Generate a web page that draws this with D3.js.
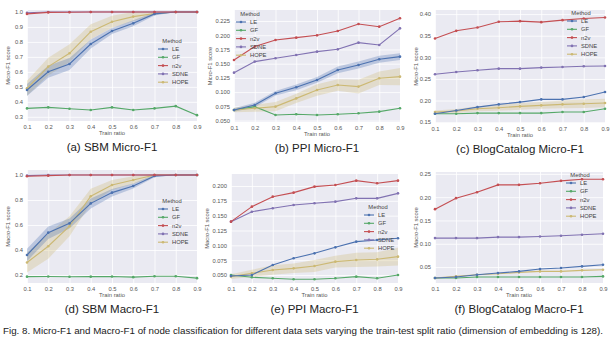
<!DOCTYPE html>
<html>
<head>
<meta charset="utf-8">
<script src="https://cdn.jsdelivr.net/npm/d3@7"></script>
<style>
  body { margin: 0; background: #fff; }
  svg { display: block; font-family: "Liberation Sans", Arial, sans-serif; }
</style>
</head>
<body>
<div id="chart"></div>
<script>
// train ratios on the x axis
var ratios = [0.1, 0.2, 0.3, 0.4, 0.5, 0.6, 0.7, 0.8, 0.9];
var methods = ["LE", "GF", "n2v", "SDNE", "HOPE"];
var colors = ["#4C72B0", "#55A868", "#C44E52", "#8172B2", "#CCB974"];

// each panel: one array per method, same order as `methods`
var sbmMicro = [
    [0.479, 0.601, 0.653, 0.786, 0.873, 0.924, 0.987, 1.0, 1.0],
    [0.356, 0.363, 0.354, 0.345, 0.363, 0.345, 0.356, 0.371, 0.311],
    [0.987, 0.997, 0.998, 1.0, 1.0, 1.0, 1.0, 1.0, 1.0],
    [0.995, 1.0, 1.0, 1.0, 1.0, 1.0, 1.0, 1.0, 1.0],
    [0.49, 0.635, 0.724, 0.868, 0.935, 0.969, 0.99, 1.0, 1.0]
];
var ppiMicro = [
    [0.0687, 0.0775, 0.098, 0.1085, 0.1214, 0.139, 0.1477, 0.1577, 0.1623],
    [0.0687, 0.0745, 0.0599, 0.061, 0.0599, 0.061, 0.0628, 0.0657, 0.0716],
    [0.1565, 0.180, 0.1916, 0.1957, 0.1998, 0.2074, 0.2197, 0.215, 0.2297],
    [0.1342, 0.1536, 0.1594, 0.1653, 0.1711, 0.1752, 0.1869, 0.1828, 0.2121],
    [0.0687, 0.0716, 0.0745, 0.089, 0.1037, 0.1126, 0.1097, 0.1243, 0.1272]
];
var blogMicro = [
    [0.1693, 0.1771, 0.1848, 0.191, 0.1964, 0.2026, 0.2026, 0.208, 0.2197],
    [0.1693, 0.1693, 0.1709, 0.1709, 0.1709, 0.1709, 0.1733, 0.1733, 0.181],
    [0.3435, 0.3613, 0.369, 0.3822, 0.3837, 0.3814, 0.386, 0.39, 0.3923],
    [0.2607, 0.2661, 0.27, 0.2738, 0.2738, 0.2762, 0.2777, 0.2793, 0.28],
    [0.1732, 0.1756, 0.181, 0.1833, 0.1864, 0.1887, 0.191, 0.1926, 0.1942]
];
var sbmMacro = [
    [0.36, 0.539, 0.613, 0.773, 0.859, 0.912, 0.992, 1.0, 1.0],
    [0.187, 0.188, 0.186, 0.187, 0.188, 0.183, 0.19, 0.19, 0.175],
    [0.99, 0.995, 1.0, 1.0, 1.0, 1.0, 1.0, 1.0, 1.0],
    [0.995, 1.0, 1.0, 1.0, 1.0, 1.0, 1.0, 1.0, 1.0],
    [0.30, 0.43, 0.59, 0.83, 0.92, 0.96, 1.0, 1.0, 1.0]
];
var ppiMacro = [
    [0.0483, 0.05, 0.0669, 0.0781, 0.0865, 0.0966, 0.1062, 0.109, 0.1118],
    [0.05, 0.0461, 0.0444, 0.0427, 0.0427, 0.0444, 0.0472, 0.0444, 0.05],
    [0.1399, 0.1652, 0.182, 0.1888, 0.1989, 0.2017, 0.209, 0.2045, 0.209],
    [0.1399, 0.1567, 0.1624, 0.168, 0.1708, 0.1736, 0.1792, 0.1792, 0.1876],
    [0.0472, 0.0528, 0.0584, 0.0612, 0.0652, 0.0725, 0.0753, 0.0764, 0.0809]
];
var blogMacro = [
    [0.0264, 0.0286, 0.0336, 0.0371, 0.0407, 0.0457, 0.0479, 0.0514, 0.055],
    [0.0264, 0.0264, 0.0286, 0.0286, 0.0286, 0.0286, 0.0286, 0.0286, 0.03],
    [0.1743, 0.1979, 0.2107, 0.2264, 0.2264, 0.23, 0.235, 0.2386, 0.2386],
    [0.1121, 0.1121, 0.1121, 0.1143, 0.1143, 0.1157, 0.1171, 0.1193, 0.1214],
    [0.0264, 0.03, 0.0336, 0.0357, 0.0386, 0.0407, 0.0407, 0.0429, 0.0443]
];

// confidence half-widths (only the noisy ones are visible)
var sbmMicroCI = [
    [0.04, 0.04, 0.04, 0.03, 0.02, 0.02, 0.01, 0, 0],
    null, null, null,
    [0.05, 0.06, 0.06, 0.05, 0.04, 0.03, 0.01, 0, 0]
];
var sbmMacroCI = [
    [0.05, 0.05, 0.04, 0.04, 0.03, 0.02, 0.01, 0, 0],
    null, null, null,
    [0.08, 0.1, 0.08, 0.06, 0.04, 0.03, 0.01, 0, 0]
];
var ppiMicroCI = [
    [0.003, 0.004, 0.004, 0.005, 0.005, 0.006, 0.006, 0.006, 0.006],
    null, null, null,
    [0.004, 0.006, 0.008, 0.008, 0.01, 0.01, 0.012, 0.012, 0.015]
];
var ppiMacroCI = [
    null, null, null, null,
    [0.004, 0.006, 0.008, 0.008, 0.01, 0.01, 0.012, 0.012, 0.015]
];
var blogMicroCI = [
    null, null, null, null,
    [0.004, 0.005, 0.006, 0.007, 0.008, 0.008, 0.009, 0.01, 0.01]
];

// y tick values per panel
var sbmMicroTicks = [0.3, 0.4, 0.5, 0.6, 0.7, 0.8, 0.9, 1.0];
var ppiMicroTicks = [0.050, 0.075, 0.100, 0.125, 0.150, 0.175, 0.200, 0.225];
var blogMicroTicks = [0.15, 0.20, 0.25, 0.30, 0.35, 0.40];
var sbmMacroTicks = [0.2, 0.4, 0.6, 0.8, 1.0];
var ppiMacroTicks = [0.050, 0.075, 0.100, 0.125, 0.150, 0.175, 0.200];
var blogMacroTicks = [0.05, 0.10, 0.15, 0.20, 0.25];

var panels = [
    {title: "(a) SBM Micro-F1", data: sbmMicro, ci: sbmMicroCI, ticks: sbmMicroTicks, fmt: ".1f",
     dom: [0.272, 1.013], x0: 27, x1: 197, y0: 10, y1: 121, ylab: "Micro-F1 score", leg: [158, 43]},
    {title: "(b) PPI Micro-F1", data: ppiMicro, ci: ppiMicroCI, ticks: ppiMicroTicks, fmt: ".3f",
     dom: [0.0475, 0.2443], x0: 234, x1: 400, y0: 10, y1: 122, ylab: "Micro-F1 score", leg: [236, 16]},
    {title: "(c) BlogCatalog Micro-F1", data: blogMicro, ci: blogMicroCI, ticks: blogMicroTicks, fmt: ".2f",
     dom: [0.148, 0.4095], x0: 435, x1: 605, y0: 10, y1: 123, ylab: "Micro-F1 score", leg: [567, 15]},
    {title: "(d) SBM Macro-F1", data: sbmMacro, ci: sbmMacroCI, ticks: sbmMacroTicks, fmt: ".1f",
     dom: [0.136, 1.04], x0: 27, x1: 197, y0: 170, y1: 283, ylab: "Macro-F1 score", leg: [158, 203]},
    {title: "(e) PPI Macro-F1", data: ppiMacro, ci: ppiMacroCI, ticks: ppiMacroTicks, fmt: ".3f",
     dom: [0.0365, 0.2202], x0: 231, x1: 398, y0: 174, y1: 283, ylab: "Macro-F1 score", leg: [364, 209]},
    {title: "(f) BlogCatalog Macro-F1", data: blogMacro, ci: null, ticks: blogMacroTicks, fmt: ".2f",
     dom: [0.0158, 0.254], x0: 435, x1: 603, y0: 172, y1: 283, ylab: "Macro-F1 score", leg: [566, 177]}
];

var width = 615, height = 348;
var svg = d3.select("#chart").append("svg")
    .attr("width", width)
    .attr("height", height)
    .attr("viewBox", [0, 0, width, height]);

// draw order: green, yellow, blue, purple, red (red ends on top)
var drawOrder = [1, 4, 0, 3, 2];

panels.forEach(function(p) {
    var x = d3.scaleLinear().domain([0.1, 0.9]).range([p.x0, p.x1]);
    var y = d3.scaleLinear().domain(p.dom).range([p.y1, p.y0]);
    var g = svg.append("g");

    g.append("rect")
        .attr("x", p.x0).attr("y", p.y0)
        .attr("width", p.x1 - p.x0).attr("height", p.y1 - p.y0)
        .attr("fill", "#EAEAF2");

    // grid
    g.append("g")
        .attr("transform", `translate(0,${p.y1})`)
        .call(d3.axisBottom(x).tickValues(ratios).tickSize(-(p.y1 - p.y0)).tickFormat(d3.format(".1f")).tickPadding(4))
        .call(g => g.select(".domain").remove())
        .call(g => g.selectAll(".tick line").attr("stroke", "#fff").attr("stroke-width", 0.8))
        .call(g => g.selectAll(".tick text").attr("fill", "#555").style("font-size", "5.8px"));

    g.append("g")
        .attr("transform", `translate(${p.x0},0)`)
        .call(d3.axisLeft(y).tickValues(p.ticks).tickSize(-(p.x1 - p.x0)).tickFormat(d3.format(p.fmt)).tickPadding(4))
        .call(g => g.select(".domain").remove())
        .call(g => g.selectAll(".tick line").attr("stroke", "#fff").attr("stroke-width", 0.8))
        .call(g => g.selectAll(".tick text").attr("fill", "#555").style("font-size", "5.8px"));

    g.append("text")
        .attr("x", (p.x0 + p.x1) / 2)
        .attr("y", p.y1 + 14)
        .attr("text-anchor", "middle")
        .attr("fill", "#555")
        .style("font-size", "5.8px")
        .text("Train ratio");

    g.append("text")
        .attr("transform", `translate(${p.x0 - (p.fmt === ".3f" ? 22 : 17)},${(p.y0 + p.y1) / 2}) rotate(-90)`)
        .attr("text-anchor", "middle")
        .attr("fill", "#555")
        .style("font-size", "5.8px")
        .text(p.ylab);

    var plot = g.append("g");

    // bands
    if (p.ci) {
        drawOrder.forEach(function(m) {
            var ci = p.ci[m];
            if (!ci) return;
            var area = d3.area()
                .x((d, i) => x(ratios[i]))
                .y0((d, i) => y(d - ci[i]))
                .y1((d, i) => y(Math.min(d + ci[i], p.dom[1])));
            plot.append("path")
                .datum(p.data[m])
                .attr("d", area)
                .attr("fill", colors[m])
                .attr("fill-opacity", 0.3);
        });
    }

    drawOrder.forEach(function(m) {
        var line = d3.line()
            .x((d, i) => x(ratios[i]))
            .y(d => y(d));
        plot.append("path")
            .datum(p.data[m])
            .attr("d", line)
            .attr("fill", "none")
            .attr("stroke", colors[m])
            .attr("stroke-width", 1.1);
        plot.selectAll(null)
            .data(p.data[m])
            .join("circle")
            .attr("cx", (d, i) => x(ratios[i]))
            .attr("cy", d => y(d))
            .attr("r", 1.3)
            .attr("fill", colors[m]);
    });

    // legend
    var lg = g.append("g").attr("transform", `translate(${p.leg[0]},${p.leg[1]})`);
    lg.append("text")
        .attr("x", 14).attr("y", 0)
        .attr("text-anchor", "middle")
        .attr("fill", "#444")
        .style("font-size", "5.8px")
        .text("Method");
    methods.forEach(function(name, i) {
        var yy = 8 + i * 8.3;
        lg.append("line")
            .attr("x1", 0).attr("x2", 10)
            .attr("y1", yy - 2).attr("y2", yy - 2)
            .attr("stroke", colors[i]).attr("stroke-width", 1.1);
        lg.append("circle")
            .attr("cx", 5).attr("cy", yy - 2).attr("r", 1.3)
            .attr("fill", colors[i]);
        lg.append("text")
            .attr("x", 14).attr("y", yy)
            .attr("fill", "#444")
            .style("font-size", "5.8px")
            .text(name);
    });

    svg.append("text")
        .attr("x", (p.x0 + p.x1) / 2)
        .attr("y", p.y1 + 30)
        .attr("text-anchor", "middle")
        .attr("fill", "#222")
        .style("font-size", "11.5px")
        .text(p.title);
});

svg.append("text")
    .attr("x", 3)
    .attr("y", 334)
    .attr("fill", "#222")
    .attr("textLength", 600)
    .attr("lengthAdjust", "spacingAndGlyphs")
    .style("font-size", "9.4px")
    .text("Fig. 8. Micro-F1 and Macro-F1 of node classification for different data sets varying the train-test split ratio (dimension of embedding is 128).");
</script>
</body>
</html>
